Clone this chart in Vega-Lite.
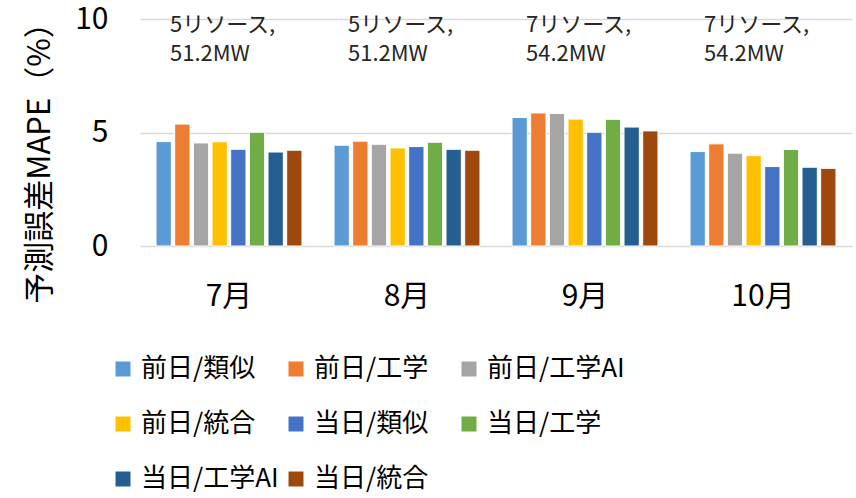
{
  "$schema": "https://vega.github.io/schema/vega-lite/v6.json",
  "width": 712,
  "height": 227,
  "autosize": {"type": "none"},
  "padding": {"left": 140, "top": 19, "right": 4, "bottom": 252},
  "background": "white",
  "config": {
    "font": "Noto Sans CJK JP",
    "view": {"stroke": null}
  },
  "layer": [
    {
      "data": {
        "values": [
          {"month": "7月", "series": "前日/類似", "mape": 4.60},
          {"month": "7月", "series": "前日/工学", "mape": 5.37},
          {"month": "7月", "series": "前日/工学AI", "mape": 4.54},
          {"month": "7月", "series": "前日/統合", "mape": 4.59},
          {"month": "7月", "series": "当日/類似", "mape": 4.26},
          {"month": "7月", "series": "当日/工学", "mape": 5.01},
          {"month": "7月", "series": "当日/工学AI", "mape": 4.14},
          {"month": "7月", "series": "当日/統合", "mape": 4.22},
          {"month": "8月", "series": "前日/類似", "mape": 4.44},
          {"month": "8月", "series": "前日/工学", "mape": 4.62},
          {"month": "8月", "series": "前日/工学AI", "mape": 4.48},
          {"month": "8月", "series": "前日/統合", "mape": 4.32},
          {"month": "8月", "series": "当日/類似", "mape": 4.38},
          {"month": "8月", "series": "当日/工学", "mape": 4.57},
          {"month": "8月", "series": "当日/工学AI", "mape": 4.26},
          {"month": "8月", "series": "当日/統合", "mape": 4.22},
          {"month": "9月", "series": "前日/類似", "mape": 5.66},
          {"month": "9月", "series": "前日/工学", "mape": 5.86},
          {"month": "9月", "series": "前日/工学AI", "mape": 5.84},
          {"month": "9月", "series": "前日/統合", "mape": 5.59},
          {"month": "9月", "series": "当日/類似", "mape": 5.01},
          {"month": "9月", "series": "当日/工学", "mape": 5.58},
          {"month": "9月", "series": "当日/工学AI", "mape": 5.24},
          {"month": "9月", "series": "当日/統合", "mape": 5.07},
          {"month": "10月", "series": "前日/類似", "mape": 4.16},
          {"month": "10月", "series": "前日/工学", "mape": 4.50},
          {"month": "10月", "series": "前日/工学AI", "mape": 4.09},
          {"month": "10月", "series": "前日/統合", "mape": 3.98},
          {"month": "10月", "series": "当日/類似", "mape": 3.50},
          {"month": "10月", "series": "当日/工学", "mape": 4.25},
          {"month": "10月", "series": "当日/工学AI", "mape": 3.47},
          {"month": "10月", "series": "当日/統合", "mape": 3.42}
        ]
      },
      "mark": {"type": "bar", "stroke": "white", "strokeWidth": 1},
      "encoding": {
        "x": {
          "field": "month",
          "type": "nominal",
          "sort": ["7月", "8月", "9月", "10月"],
          "scale": {"paddingInner": 0.18, "paddingOuter": 0.09},
          "axis": {
            "title": null,
            "labelAngle": 0,
            "domain": false,
            "ticks": false,
            "labelFontSize": 30,
            "labelColor": "#000000",
            "labelPadding": 35
          }
        },
        "xOffset": {
          "field": "series",
          "type": "nominal",
          "sort": ["前日/類似", "前日/工学", "前日/工学AI", "前日/統合", "当日/類似", "当日/工学", "当日/工学AI", "当日/統合"],
          "scale": {"paddingInner": 0.18, "paddingOuter": 0}
        },
        "y": {
          "field": "mape",
          "type": "quantitative",
          "scale": {"domain": [0, 10], "nice": false},
          "axis": {
            "values": [0, 5, 10],
            "title": "予測誤差MAPE（%）",
            "titleFontSize": 31,
            "titleFontWeight": "normal",
            "titleColor": "#000000",
            "titlePadding": 18,
            "titleY": 136,
            "titleAlign": "center",
            "labelFontSize": 30,
            "labelColor": "#000000",
            "labelPadding": 32,
            "domain": false,
            "ticks": false,
            "grid": true,
            "gridColor": "#d9d9d9",
            "gridWidth": 1.5
          }
        },
        "color": {
          "field": "series",
          "type": "nominal",
          "scale": {
            "domain": ["前日/類似", "前日/工学", "前日/工学AI", "前日/統合", "当日/類似", "当日/工学", "当日/工学AI", "当日/統合"],
            "range": ["#5B9BD5", "#ED7D31", "#A5A5A5", "#FFC000", "#4472C4", "#70AD47", "#255E91", "#9E480E"]
          },
          "legend": {
            "title": null,
            "orient": "none",
            "legendX": -30,
            "legendY": 337,
            "columns": 3,
            "gridAlign": "all",
            "direction": "horizontal",
            "symbolType": "square",
            "symbolSize": 225,
            "symbolStrokeWidth": 0,
            "labelFontSize": 26,
            "labelColor": "#000000",
            "labelOffset": 5,
            "labelLimit": 300,
            "columnPadding": 4,
            "rowPadding": 29
          }
        }
      }
    },
    {
      "data": {
        "values": [
          {"month": "7月", "note": "5リソース,\n51.2MW"},
          {"month": "8月", "note": "5リソース,\n51.2MW"},
          {"month": "9月", "note": "7リソース,\n54.2MW"},
          {"month": "10月", "note": "7リソース,\n54.2MW"}
        ]
      },
      "mark": {
        "type": "text",
        "lineBreak": "\n",
        "fontSize": 22,
        "lineHeight": 29,
        "align": "left",
        "baseline": "middle",
        "dx": -59,
        "color": "#262626"
      },
      "encoding": {
        "x": {"field": "month", "type": "nominal", "sort": ["7月", "8月", "9月", "10月"]},
        "y": {"datum": 9.75},
        "text": {"field": "note"}
      }
    }
  ]
}
